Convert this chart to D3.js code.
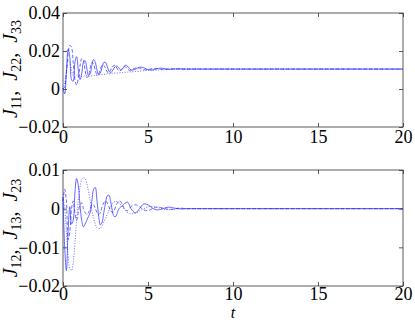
<!DOCTYPE html>
<html><head><meta charset="utf-8">
<script src="https://cdn.jsdelivr.net/npm/d3@7"></script>
<style>
html,body{margin:0;padding:0;background:#fff;}
svg{display:block;}
text{font-family:"Liberation Serif","DejaVu Serif",serif;}
</style></head>
<body><svg id="c" width="415" height="321"></svg>
<script>
// time samples
const time = [0,0.1,0.2,0.3,0.4,0.5,0.6,0.7,0.8,0.9,
  1,1.1,1.2,1.3,1.4,1.5,1.6,1.7,1.8,1.9,
  2,2.1,2.2,2.3,2.4,2.5,2.6,2.7,2.8,2.9,
  3,3.1,3.2,3.3,3.4,3.5,3.6,3.7,3.8,3.9,
  4,4.25,4.5,4.75,5,5.25,5.5,5.75,6,6.25,6.5,6.75,7,7.25,7.5,7.75,8,20];

// values in units of 1e-3
const J11 = [0.5,-2.5,9,21,17,5,4,14,17,10,
  5,8,14,15,11,7,8,12.5,15.5,14,
  10,7.5,8.5,11.5,14,14,12,9.5,8.5,9.5,
  11,12,12,11,10,10.5,12,12.6,12,10.8,
  10,10.3,11.5,11.2,10.2,10,10.6,11,10.7,10.4,10.5,10.7,10.6,10.5,10.5,10.5,10.5,10.5];
const J22 = [0,1,8,18,23,22,14,5,2,6,
  12,16,15,10,6,7,11,14,13,10,
  7.5,8,10.5,12.5,12.5,11,9,8.5,10,11.5,
  12.5,12,10.5,9.5,9.8,11,11.8,11.5,10.5,9.8,
  10,11,11,10.2,10.2,10.8,10.8,10.4,10.3,10.6,10.6,10.5,10.4,10.5,10.5,10.5,10.5,10.5];
const J33 = [0,3,10,15,14,10,7,6.5,7,7.5,
  7,6.5,6.5,7,7,6.8,6.8,7,7.2,7.2,
  7.2,7.4,7.6,7.6,7.6,7.8,8,8,8,8.2,
  8.4,8.4,8.4,8.5,8.6,8.7,8.8,8.8,8.9,9,
  9,9.2,9.4,9.6,9.8,9.9,10,10.1,10.2,10.3,10.4,10.4,10.5,10.5,10.5,10.5,10.5,10.5];

const J12 = [3,-10,-16,-6,0.5,-4,-3,4,7.8,6,
  1,-3,-4.7,-4,-3,-2,-1,2,5,5.5,
  2,-2,-4.2,-3.5,-1,1.5,3.3,3.5,2,-0.5,
  -2,-2,-1,0,0.5,0.8,1.2,1.6,1.7,1,
  0,-1.1,0,1.2,1,0.2,-0.3,-0.2,0.2,0.4,0.2,0,-0.1,0,0,0,0,0];
const J13 = [2,5,2,-8,-6,0,2,-1,-3,-1,
  1,1.5,0,-1,-1.5,-1,0,1,1,0,
  -1,-1.5,-1,0.5,1.5,2,1.5,0.5,-0.5,-1,
  -0.5,0.5,1.5,2,1.8,1,0,-0.5,-0.5,0,
  0.5,1,0.5,-0.3,-0.5,0,0.4,0.3,0,-0.2,-0.1,0.1,0.1,0,0,0,0,0];
const J23 = [3,0,-6,-12,-15.5,-16,-14,-9,-3,2,
  5.5,7.5,8,7.8,6.5,4.5,2,-0.5,-2.5,-4,
  -5,-5.2,-5,-4.5,-3.5,-2.5,-1.5,-0.5,0.5,1.2,
  1.7,1.9,1.8,1.5,1,0.5,0,-0.5,-1,-1.2,
  -1.3,-1.2,-0.6,0,0.5,0.6,0.4,0.1,-0.2,-0.3,-0.2,0,0.1,0,0,0,0,0];

const xTicks = [0,5,10,15,20];
const xTickLabels = ["0","5","10","15","20"];
const topYTicks = [-20,0,20,40];
const topYTickLabels = ["\u22120.02","0","0.02","0.04"];
const botYTicks = [-20,-10,0,10];
const botYTickLabels = ["\u22120.02","\u22120.01","0","0.01"];

const svg = d3.select("#c");
const x = d3.scaleLinear().domain([0,20]).range([63,403]);

const panels = [
  {y: d3.scaleLinear().domain([-20,40]).range([127,13]), ticks: topYTicks, labels: topYTickLabels,
   series: [J11,J22,J33], subs: ["11","22","33"], ly: 69, pad: 3},
  {y: d3.scaleLinear().domain([-20,10]).range([286,170]), ticks: botYTicks, labels: botYTickLabels,
   series: [J12,J13,J23], subs: ["12","13","23"], ly: 228, pad: 1.5}
];
const dashes = [null, "3.5,2", "1,1.6"];
const FS = 18;
const LFS = 20;

panels.forEach((p, pi) => {
  const g = svg.append("g");
  const [y0, y1] = p.y.range();
  // box
  g.append("rect").attr("x", x(0)).attr("y", y1).attr("width", x(20)-x(0)).attr("height", y0-y1)
    .attr("fill","none").attr("stroke","#333").attr("stroke-width",0.8);

  const line = d3.line().x((d,i)=>x(time[i])).y(d=>p.y(d)).curve(d3.curveCatmullRom.alpha(0.5));
  p.series.forEach((s, si) => {
    g.append("path").attr("d", line(s)).attr("fill","none").attr("stroke","#2a2aff")
      .attr("stroke-width",0.7).attr("stroke-dasharray", dashes[si]);
  });

  const styleAxis = sel => {
    sel.select(".domain").remove();
    sel.selectAll(".tick line").attr("stroke","#333").attr("stroke-width",0.8);
    sel.selectAll("text").attr("font-size",FS).attr("fill","#000")
      .style("font-family",'"Liberation Serif",serif');
  };
  g.append("g").attr("transform",`translate(0,${y0})`)
    .call(d3.axisBottom(x).tickValues(xTicks).tickFormat((d,i)=>xTickLabels[i]).tickSizeInner(-4).tickSizeOuter(0).tickPadding(p.pad))
    .call(styleAxis);
  g.append("g").attr("transform",`translate(0,${y1})`)
    .call(d3.axisTop(x).tickValues(xTicks).tickFormat("").tickSizeInner(-4).tickSizeOuter(0))
    .call(styleAxis);
  g.append("g").attr("transform",`translate(${x(0)},0)`)
    .call(d3.axisLeft(p.y).tickValues(p.ticks).tickFormat((d,i)=>p.labels[i]).tickSizeInner(-4).tickSizeOuter(0).tickPadding(3))
    .call(styleAxis);
  g.append("g").attr("transform",`translate(${x(20)},0)`)
    .call(d3.axisRight(p.y).tickValues(p.ticks).tickFormat("").tickSizeInner(-4).tickSizeOuter(0))
    .call(styleAxis);

  // y label
  const t = g.append("text").attr("transform",`translate(16.5,${p.ly}) rotate(-90)`)
    .attr("text-anchor","middle").attr("font-size",LFS);
  p.subs.forEach((sub, k) => {
    t.append("tspan").attr("font-style","italic").text("J");
    t.append("tspan").attr("font-size",LFS*0.7).attr("dy",4).text(sub);
    if (k < 2) t.append("tspan").attr("dy",-4).text(",\u2002");
  });
});

svg.append("text").attr("x", x(10)).attr("y", 318).attr("text-anchor","middle")
  .attr("font-size",16).attr("font-style","italic").text("t");
</script></body></html>
